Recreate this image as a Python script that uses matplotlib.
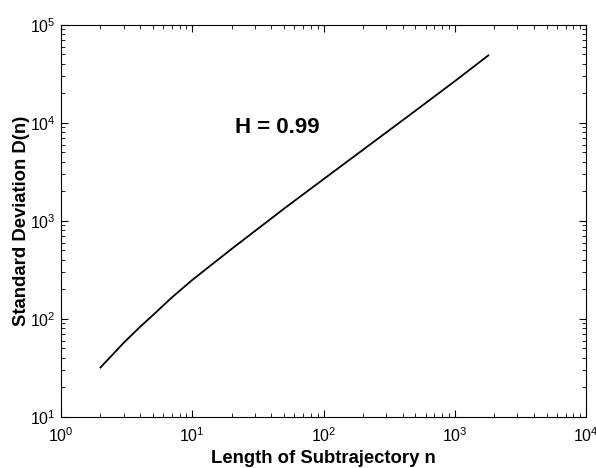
import numpy as np
import matplotlib
matplotlib.use("Agg")
import matplotlib.pyplot as plt
from matplotlib.ticker import LogLocator, NullFormatter

plt.rcParams['font.family'] = ['Liberation Sans', 'DejaVu Sans']
plt.rcParams['mathtext.default'] = 'regular'

# subtrajectory length n and standard deviation D(n)
n = [2, 3, 4, 5, 7, 10, 20, 50, 100, 200, 500, 1000, 1800]
D = [32, 57, 83, 109, 166, 250, 520, 1335, 2670, 5330, 13300, 26700, 48900]

fig = plt.figure(figsize=(5.96, 4.68), dpi=100)
ax = fig.add_axes([0.1023, 0.109, 0.881, 0.8376])

ax.loglog(n, D, color='black', lw=1.3)

ax.set_xlim(1, 1e4)
ax.set_ylim(10, 1e5)

ax.xaxis.set_major_locator(LogLocator(base=10, numticks=10))
ax.yaxis.set_major_locator(LogLocator(base=10, numticks=10))
ax.xaxis.set_minor_locator(LogLocator(base=10, subs=np.arange(2, 10), numticks=20))
ax.yaxis.set_minor_locator(LogLocator(base=10, subs=np.arange(2, 10), numticks=20))
ax.xaxis.set_minor_formatter(NullFormatter())
ax.yaxis.set_minor_formatter(NullFormatter())

ax.tick_params(which='both', direction='in', top=True, right=True, labelsize=11.5)
ax.tick_params(which='major', length=5, width=0.8)
ax.tick_params(which='minor', length=3, width=0.6)
ax.tick_params(axis='x', which='major', pad=7)
ax.tick_params(axis='y', which='major', pad=4)
for sp in ax.spines.values():
    sp.set_linewidth(0.8)

ax.set_xlabel('Length of Subtrajectory n', fontsize=13.3, fontweight='bold', labelpad=3)
ax.set_ylabel('Standard Deviation D(n)', fontsize=13.3, fontweight='bold', labelpad=0)

ax.text(21, 8900, 'H = 0.99', fontsize=16, fontweight='bold', ha='left', va='center')

fig.savefig('out.png', dpi=100)
